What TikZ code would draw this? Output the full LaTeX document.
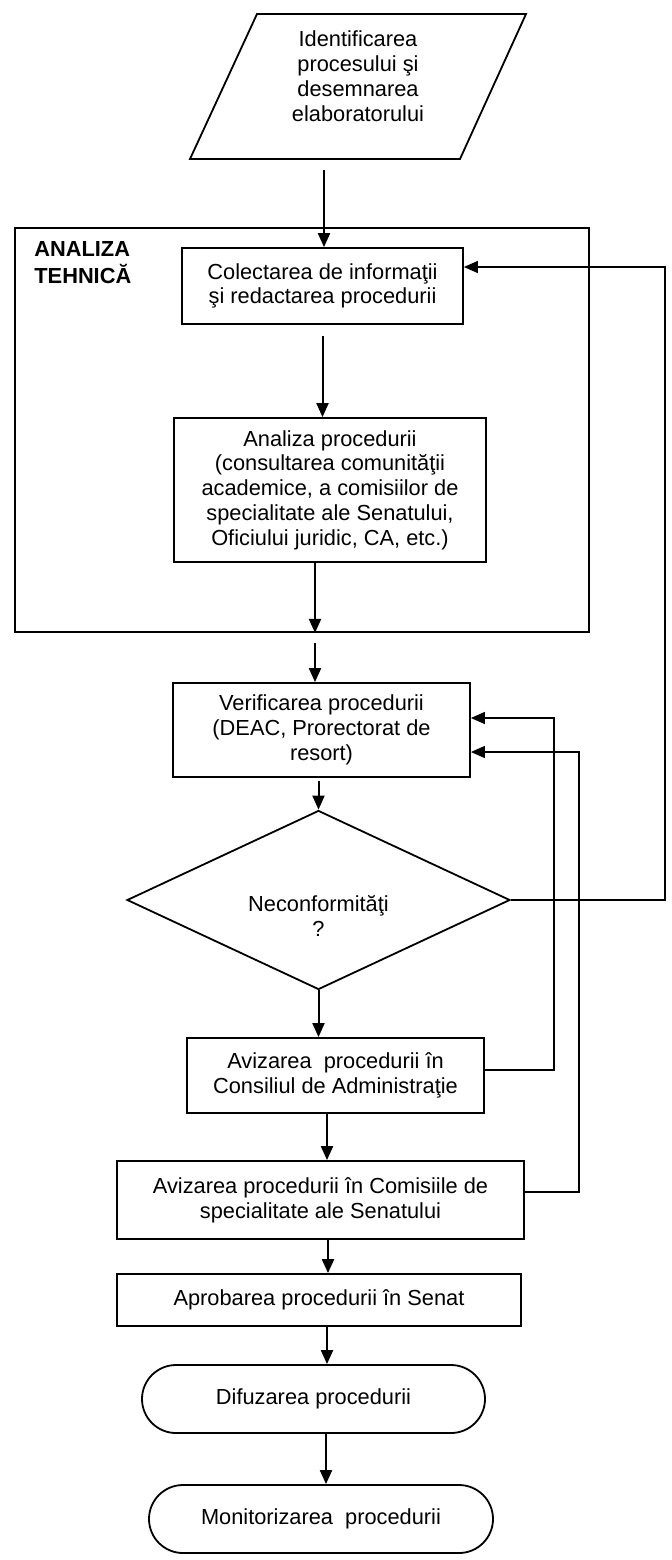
\documentclass[tikz,border=0pt]{standalone}
\usepackage{fontspec}
\setmainfont{Liberation Sans}
\usetikzlibrary{shapes.geometric,shapes.misc,arrows.meta,calc}
\begin{document}
\begin{tikzpicture}[x=0.5pt,y=-0.5pt,
  txt/.style={align=center,inner sep=0pt,font=\fontsize{10.9}{12.4}\selectfont},
  box/.style={txt,draw,line width=0.9pt,rectangle},
  term/.style={txt,draw,line width=0.9pt,rounded rectangle},
  arr/.style={line width=1pt,-{Triangle[length=7pt,width=6pt]}},
  fb/.style={line width=0.7pt,-{Triangle[length=7pt,width=6pt]}}
]
\fill[white] (0,0) rectangle (671,1560);
\useasboundingbox (0,0) rectangle (671,1560);

% input parallelogram
\draw[line width=0.9pt] (257,14) -- (526,14) -- (460,159) -- (190,159) -- cycle;
\node[txt] (par) at (358,76) {Identificarea\\procesului şi\\desemnarea\\elaboratorului};
\coordinate (parb) at (324,159);

% technical analysis frame
\node[draw,line width=0.9pt,rectangle,minimum width=287pt,minimum height=202pt,inner sep=0pt] (tech) at (302,430) {};
\node[txt,anchor=north west,align=left,font=\fontsize{10.9}{13.5}\bfseries] (techlbl) at (34,241) {ANALIZA\\TEHNICĂ};

\node[box,minimum width=140.5pt,minimum height=38pt] (col) at (322.5,286) {Colectarea de informaţii\\şi redactarea procedurii};
\node[box,minimum width=156pt,minimum height=72pt] (ana) at (330,490) {Analiza procedurii\\(consultarea comunităţii\\academice, a comisiilor de\\specialitate ale Senatului,\\Oficiului juridic, CA, etc.)};

\node[box,minimum width=148.5pt,minimum height=47pt] (ver) at (321.5,730) {Verificarea procedurii\\(DEAC, Prorectorat de\\resort)};

\node[draw,line width=0.9pt,diamond,inner sep=0pt,minimum width=191.5pt,minimum height=89.5pt] (dia) at (318.5,900) {};
\node[txt] (diat) at (318.5,916) {Neconformităţi\\?};

\node[box,minimum width=148.5pt,minimum height=37.5pt] (ca) at (335.5,1075.5) {Avizarea\ \ procedurii în\\Consiliul de Administraţie};
\node[box,minimum width=203.5pt,minimum height=39pt] (com) at (320.5,1200) {Avizarea procedurii în Comisiile de\\specialitate ale Senatului};
\node[box,minimum width=202pt,minimum height=26pt] (apr) at (319,1300) {Aprobarea procedurii în Senat};
\node[term,minimum width=171.5pt,minimum height=34pt] (dif) at (313.5,1399) {Difuzarea procedurii};
\node[term,minimum width=172pt,minimum height=34pt] (mon) at (321,1519) {Monitorizarea\ \ procedurii};

% main flow
\draw[arr,shorten <=5.5pt] (parb) -- (parb |- col.north);
\draw[arr,shorten <=5.5pt] (col.south) -- (col.south |- ana.north);
\draw[arr] ([xshift=-7.5pt]ana.south) -- ([xshift=-7.5pt]ana.south |- tech.south);
\draw[arr,shorten <=5pt] ([xshift=6.5pt]tech.south) -- ([xshift=6.5pt]tech.south |- ver.north);
\draw[arr,shorten <=1.5pt] (dia.north |- ver.south) -- (dia.north);
\draw[arr] (dia.south) -- (dia.south |- ca.north);
\draw[arr] ([xshift=-4.25pt]ca.south) -- ([xshift=-4.25pt]ca.south |- com.north);
\draw[arr] ([xshift=3.75pt]com.south) -- ([xshift=3.75pt]com.south |- apr.north);
\draw[arr] ([xshift=4pt]apr.south) -- ([xshift=4pt]apr.south |- dif.north);
\draw[arr] ([xshift=6.25pt]dif.south) -- ([xshift=6.25pt]dif.south |- mon.north);

% feedback loops
\coordinate (r1) at (665,0);
\coordinate (r2) at (554,0);
\coordinate (r3) at (579,0);
\draw[fb] (dia.east) -- (dia.east -| r1) -- ([yshift=9.5pt]col.east -| r1) -- ([yshift=9.5pt]col.east);
\draw[fb] ([yshift=2.75pt]ca.east) -- ([yshift=2.75pt]ca.east -| r2) -- ([yshift=6pt]ver.east -| r2) -- ([yshift=6pt]ver.east);
\draw[fb] ([yshift=4pt]com.east) -- ([yshift=4pt]com.east -| r3) -- ([yshift=-11pt]ver.east -| r3) -- ([yshift=-11pt]ver.east);
\end{tikzpicture}
\end{document}
